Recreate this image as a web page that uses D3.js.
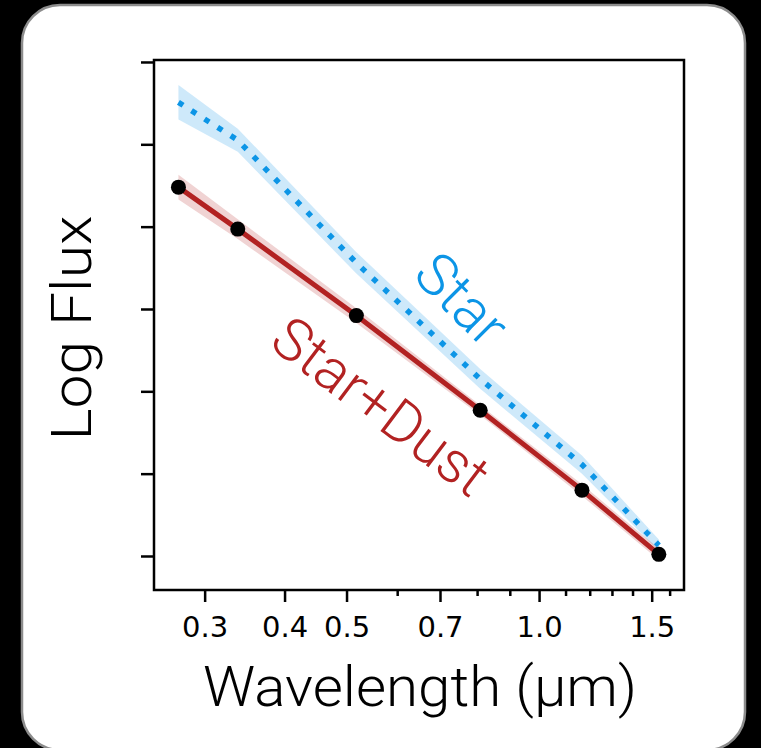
<!DOCTYPE html>
<html>
<head>
<meta charset="utf-8">
<script src="https://cdn.jsdelivr.net/npm/d3@7/dist/d3.min.js"></script>
<style>
  html, body { margin: 0; padding: 0; background: #000; }
  svg { display: block; }
</style>
</head>
<body>
<script>
// wavelengths of the photometric points (micron)
var wavelengths = [0.273, 0.338, 0.518, 0.809, 1.167, 1.539];
// star + dust model (log flux, arbitrary units) and its band half-width
var dustFlux = [4.48, 3.97, 2.92, 1.77, 0.80, 0.02];
var dustErr  = [0.15, 0.12, 0.09, 0.06, 0.07, 0.07];
// bare star model
var starFlux = [5.51, 5.05, 3.56, 2.15, 1.11, 0.13];
var starErr  = [0.21, 0.14, 0.13, 0.12, 0.11, 0.07];

var majorTicks = [0.3, 0.4, 0.5, 0.7, 1.0, 1.5];
var majorLabels = ["0.3", "0.4", "0.5", "0.7", "1.0", "1.5"];
var minorTicks = [0.6, 0.8, 0.9, 1.1, 1.2, 1.3, 1.4, 1.6];
var yTicks = [0, 1, 2, 3, 4, 5, 6];

var W = 761, H = 748;
var margin = { top: 60, right: 77, bottom: 158, left: 154 };
var width = W - margin.left - margin.right;
var height = H - margin.top - margin.bottom;

var blue = "#0c95e6";
var red = "#b22222";
var labelFont = "Roboto, 'Liberation Sans', sans-serif";

var svg = d3.select("body").append("svg")
    .attr("width", W)
    .attr("height", H);

// white card
svg.append("rect")
    .attr("x", 22).attr("y", 5)
    .attr("width", 723).attr("height", 745)
    .attr("rx", 38).attr("ry", 38)
    .style("fill", "#fff")
    .style("stroke", "#8c8c8c")
    .style("stroke-width", 2.5);

var x = d3.scaleLog()
    .domain([0.25, 1.685])
    .range([0, width]);

var y = d3.scaleLinear()
    .domain([-0.413, 6.024])
    .range([height, 0]);

var g = svg.append("g")
    .attr("transform", "translate(" + margin.left + "," + margin.top + ")");

var starData = wavelengths.map(function(w, i){
    return { w: w, v: starFlux[i], e: starErr[i] };
});
var dustData = wavelengths.map(function(w, i){
    return { w: w, v: dustFlux[i], e: dustErr[i] };
});

var band = d3.area()
    .x(function(d){ return x(d.w); })
    .y0(function(d){ return y(d.v - d.e); })
    .y1(function(d){ return y(d.v + d.e); });

var line = d3.line()
    .x(function(d){ return x(d.w); })
    .y(function(d){ return y(d.v); });

// bands
g.append("path")
    .datum(starData)
    .attr("d", band)
    .style("fill", "#1e9be9")
    .style("fill-opacity", 0.22);

g.append("path")
    .datum(dustData)
    .attr("d", band)
    .style("fill", red)
    .style("fill-opacity", 0.2);

// star + dust line
g.append("path")
    .datum(dustData)
    .attr("d", line)
    .style("fill", "none")
    .style("stroke", red)
    .style("stroke-width", 5);

// star dotted line
g.append("path")
    .datum(starData)
    .attr("d", line)
    .style("fill", "none")
    .style("stroke", blue)
    .style("stroke-width", 5.5)
    .style("stroke-dasharray", "5.5,10");

// photometry points
g.selectAll("circle.pt")
    .data(dustData)
    .enter().append("circle")
    .attr("class", "pt")
    .attr("cx", function(d){ return x(d.w); })
    .attr("cy", function(d){ return y(d.v); })
    .attr("r", 7.5)
    .style("fill", "#000");

// axes
var xMajor = d3.axisBottom(x)
    .tickValues(majorTicks)
    .tickSize(12)
    .tickPadding(14)
    .tickFormat(function(d, i){ return majorLabels[i]; });

var xMinor = d3.axisBottom(x)
    .tickValues(minorTicks)
    .tickSize(6)
    .tickFormat("");

var yAxis = d3.axisLeft(y)
    .tickValues(yTicks)
    .tickSize(13)
    .tickFormat("");

var gxMin = g.append("g")
    .attr("transform", "translate(0," + height + ")")
    .call(xMinor);
var gx = g.append("g")
    .attr("transform", "translate(0," + height + ")")
    .call(xMajor);
var gy = g.append("g").call(yAxis);

[gx, gxMin, gy].forEach(function(a){
    a.selectAll("path").remove();
    a.selectAll("line").style("stroke", "#000").style("stroke-width", 2.5);
});

gx.selectAll("text")
    .style("font-family", "'DejaVu Sans', sans-serif")
    .style("font-size", "29px")
    .style("fill", "#000");

// frame
g.append("rect")
    .attr("x", 0).attr("y", 0)
    .attr("width", width).attr("height", height)
    .style("fill", "none")
    .style("stroke", "#000")
    .style("stroke-width", 2.5);

// axis titles
svg.append("text")
    .attr("x", 420).attr("y", 706)
    .attr("text-anchor", "middle")
    .attr("textLength", 434)
    .attr("lengthAdjust", "spacingAndGlyphs")
    .style("font-family", labelFont)
    .style("font-weight", 300)
    .style("font-size", "56px")
    .text("Wavelength (µm)");

svg.append("text")
    .attr("transform", "translate(91,328) rotate(-90)")
    .attr("text-anchor", "middle")
    .attr("textLength", 225)
    .attr("lengthAdjust", "spacingAndGlyphs")
    .style("font-family", labelFont)
    .style("font-weight", 300)
    .style("font-size", "56px")
    .text("Log Flux");

// series labels
svg.append("text")
    .attr("transform", "translate(462,299) rotate(45)")
    .attr("text-anchor", "middle")
    .attr("dy", "0.35em")
    .style("font-family", labelFont)
    .style("font-weight", 300)
    .style("font-size", "58px")
    .style("fill", blue)
    .text("Star");

svg.append("text")
    .attr("transform", "translate(381,406) rotate(37)")
    .attr("text-anchor", "middle")
    .attr("dy", "0.35em")
    .style("font-family", labelFont)
    .style("font-weight", 300)
    .style("font-size", "58px")
    .style("fill", red)
    .text("Star+Dust");
</script>
</body>
</html>
